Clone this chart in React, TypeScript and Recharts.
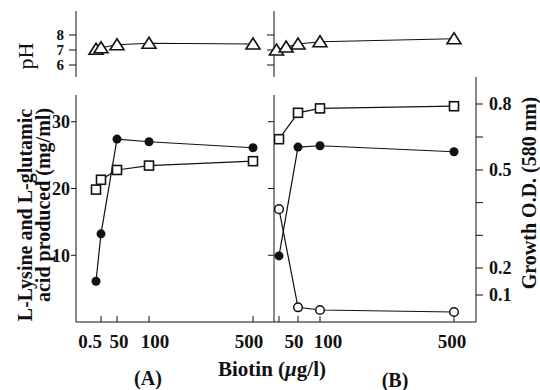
import { LineChart, Line, XAxis, YAxis } from "recharts";

// panel (A)
const biotinA = [0, 0.5, 50, 100, 500];
const lysineA = [6.1, 13.2, 27.4, 27.0, 26.1];
const growthA = [0.44, 0.47, 0.5, 0.52, 0.54];
const phBiotinA = [0, 0.5, 50, 100, 500];
const phA = [7.05, 7.15, 7.35, 7.45, 7.4];

// panel (B)
const biotinB = [10, 50, 100, 500];
const lysineB = [9.9, 26.2, 26.4, 25.5];
const glutamicB = [16.9, 2.2, 1.8, 1.5];
const growthB = [0.64, 0.76, 0.78, 0.79];
const phBiotinB = [5, 25, 50, 100, 500];
const phB = [7.0, 7.2, 7.4, 7.55, 7.75];

// ticks
const xTicksA = [0.5, 50, 100, 500];
const xTicksB = [10, 50, 100, 500];
const mgTicks = [10, 20, 30];
const odTicks = [0.1, 0.2, 0.3, 0.4, 0.5, 0.65, 0.8];
const odLabelled = [0.1, 0.2, 0.5, 0.8];
const phTicks = [6, 7, 8];

// the hand drawn axes are not linear, so biotin and O.D. go through piecewise scales
const scaleA = [[0, 20], [0.5, 25], [50, 41], [100, 73], [500, 177], [600, 198]];
const scaleB = [[0, 0], [10, 5], [50, 24], [100, 46], [500, 180], [555, 202]];
const scaleOD = [[0, 0], [0.1, 4.04], [0.2, 8.09], [0.5, 22.77], [0.8, 32.65], [0.84, 34]];

// labels on the crowded biotin axis are nudged apart like in the print
const nudgeA: Record<number, number> = { 50: 2, 100: 6, 500: -4 };
const nudgeB: Record<number, number> = { 50: -4, 100: 8, 500: -2 };

function warp(knots: number[][], v: number) {
  for (let i = 1; i < knots.length; i++) {
    const [a0, b0] = knots[i - 1];
    const [a1, b1] = knots[i];
    if (v <= a1 || i === knots.length - 1) return b0 + ((v - a0) / (a1 - a0)) * (b1 - b0);
  }
  return knots[0][1];
}

const W = 540, H = 390;
const axisA = 76, axisB = 274, axisR = 476;
const phTop = 11, phBottom = 77, mainTop = 95, mainBottom = 322;
const ink = "#111";
const font = "'Liberation Serif', 'Times New Roman', serif";
const tickStyle = { fontSize: 19, fontWeight: 700, fill: ink, fontFamily: font };
const yTickStyle = { ...tickStyle, fontSize: 18 };
const phTickStyle = { ...tickStyle, fontSize: 15 };
const layer: any = { position: "absolute", left: 0, top: 0 };

const mainA = biotinA.map((b, i) => ({ x: warp(scaleA, b), lysine: lysineA[i], growth: warp(scaleOD, growthA[i]) }));
const mainB = biotinB.map((b, i) => ({
  x: warp(scaleB, b),
  lysine: lysineB[i],
  glutamic: glutamicB[i],
  growth: warp(scaleOD, growthB[i]),
}));
const pHDataA = phBiotinA.map((b, i) => ({ x: warp(scaleA, b), ph: phA[i] }));
const pHDataB = phBiotinB.map((b, i) => ({ x: warp(scaleB, b), ph: phB[i] }));

const filledDot = (p: any) => <circle key={`f${p.index}`} cx={p.cx} cy={p.cy} r={4.5} fill={ink} />;
const openDot = (p: any) => (
  <circle key={`o${p.index}`} cx={p.cx} cy={p.cy} r={4.3} fill="#fff" stroke={ink} strokeWidth={1.5} />
);
const squareDot = (p: any) => (
  <rect key={`s${p.index}`} x={p.cx - 4.5} y={p.cy - 4.5} width={9} height={9} fill="#fff" stroke={ink} strokeWidth={1.6} />
);
const triDot = (p: any) => (
  <polygon
    key={`t${p.index}`}
    points={`${p.cx},${p.cy - 6} ${p.cx + 7},${p.cy + 5} ${p.cx - 7},${p.cy + 5}`}
    fill="#fff"
    stroke={ink}
    strokeWidth={1.6}
  />
);

function biotinTick(knots: number[][], values: number[], hidden: number[], nudge: Record<number, number>) {
  return (p: any) => {
    const v = values.find((t) => Math.abs(warp(knots, t) - p.payload.value) < 1e-6);
    if (v === undefined || hidden.includes(v)) return <g key={p.index} />;
    const first = v === 0.5;
    return (
      <text
        key={p.index}
        x={first ? p.x + 1 : p.x + (nudge[v] || 0)}
        y={p.y}
        dy="0.71em"
        textAnchor={first ? "end" : "middle"}
        {...tickStyle}
      >
        {v}
      </text>
    );
  };
}

const odFormat = (v: number) => {
  const t = odTicks.find((o) => Math.abs(warp(scaleOD, o) - v) < 1e-6);
  return t !== undefined && odLabelled.includes(t) ? t.toFixed(1) : "";
};

export default function App() {
  return (
    <div style={{ position: "absolute", left: 0, top: 0, width: W, height: H, background: "#fff" }}>
      {/* pH, panel A */}
      <div style={layer}>
        <LineChart width={W} height={H} data={pHDataA} margin={{ top: phTop, left: axisA - 60, right: W - axisB, bottom: H - phBottom }}>
          <XAxis xAxisId="t" orientation="top" type="number" dataKey="x" domain={[0, 198]} height={0} tick={false} tickLine={false} stroke={ink} />
          <YAxis yAxisId="p" width={60} domain={[5.2, 9.6]} ticks={phTicks} interval={0} tickSize={7} tickMargin={5} tick={phTickStyle} stroke={ink} allowDataOverflow />
          <Line xAxisId="t" yAxisId="p" dataKey="ph" stroke={ink} strokeWidth={1.2} dot={triDot} isAnimationActive={false} />
        </LineChart>
      </div>
      {/* pH, panel B */}
      <div style={layer}>
        <LineChart width={W} height={H} data={pHDataB} margin={{ top: phTop, left: axisB - 60, right: W - axisR, bottom: H - phBottom }}>
          <XAxis xAxisId="t" orientation="top" type="number" dataKey="x" domain={[0, 202]} height={0} tick={false} tickLine={false} stroke={ink} />
          <YAxis yAxisId="p" width={60} domain={[5.2, 9.6]} ticks={phTicks} interval={0} tickSize={7} tickFormatter={() => ""} stroke={ink} allowDataOverflow />
          <YAxis yAxisId="r" orientation="right" width={0} tick={false} tickLine={false} stroke={ink} />
          <Line xAxisId="t" yAxisId="p" dataKey="ph" stroke={ink} strokeWidth={1.2} dot={triDot} isAnimationActive={false} />
        </LineChart>
      </div>
      {/* main, panel A */}
      <div style={layer}>
        <LineChart width={W} height={H} data={mainA} margin={{ top: mainTop, left: axisA - 60, right: W - axisB, bottom: H - mainBottom - 30 }}>
          <XAxis type="number" dataKey="x" domain={[0, 198]} ticks={xTicksA.map((t) => warp(scaleA, t))} interval={0} height={30} tickSize={-6} tickMargin={19} tick={biotinTick(scaleA, xTicksA, [], nudgeA)} stroke={ink} allowDataOverflow />
          <YAxis yAxisId="mg" width={60} domain={[0, 34]} ticks={mgTicks} interval={0} tickSize={5} tickMargin={1} tick={yTickStyle} stroke={ink} allowDataOverflow />
          <YAxis yAxisId="od" hide domain={[0, 34]} allowDataOverflow />
          <Line yAxisId="od" dataKey="growth" stroke={ink} strokeWidth={1.2} dot={squareDot} isAnimationActive={false} />
          <Line yAxisId="mg" dataKey="lysine" stroke={ink} strokeWidth={1.2} dot={filledDot} isAnimationActive={false} />
        </LineChart>
      </div>
      {/* main, panel B */}
      <div style={layer}>
        <LineChart width={W} height={H} data={mainB} margin={{ top: mainTop, left: axisB - 60, right: W - axisR - 60, bottom: H - mainBottom - 30 }}>
          <XAxis type="number" dataKey="x" domain={[0, 202]} ticks={xTicksB.map((t) => warp(scaleB, t))} interval={0} height={30} tickSize={-6} tickMargin={19} tick={biotinTick(scaleB, xTicksB, [10], nudgeB)} stroke={ink} allowDataOverflow />
          <YAxis yAxisId="mg" width={60} domain={[0, 34]} ticks={mgTicks} interval={0} tickSize={6} tickFormatter={() => ""} stroke={ink} allowDataOverflow />
          <YAxis yAxisId="od" orientation="right" width={60} domain={[0, 34]} ticks={odTicks.map((t) => warp(scaleOD, t))} interval={0} tickFormatter={odFormat} tickSize={7} tickMargin={6} tick={yTickStyle} stroke={ink} allowDataOverflow />
          <Line yAxisId="od" dataKey="growth" stroke={ink} strokeWidth={1.2} dot={squareDot} isAnimationActive={false} />
          <Line yAxisId="mg" dataKey="lysine" stroke={ink} strokeWidth={1.2} dot={filledDot} isAnimationActive={false} />
          <Line yAxisId="mg" dataKey="glutamic" stroke={ink} strokeWidth={1.2} dot={openDot} isAnimationActive={false} />
        </LineChart>
      </div>
      {/* titles */}
      <svg width={W} height={H} style={{ ...layer, pointerEvents: "none" }} fontFamily={font} fill={ink}>
        <line x1={axisR} y1={phBottom} x2={axisR} y2={mainTop} stroke={ink} />
        <text transform="translate(25,215) rotate(-90)" textAnchor="middle" dominantBaseline="central" fontSize={20} fontWeight={700}>
          L-Lysine and L-glutamic
        </text>
        <text transform="translate(43,205) rotate(-90)" textAnchor="middle" dominantBaseline="central" fontSize={20} fontWeight={700}>
          acid produced (mg/ml)
        </text>
        <text transform="translate(529,193) rotate(-90)" textAnchor="middle" dominantBaseline="central" fontSize={20} fontWeight={700}>
          Growth O.D. (580 nm)
        </text>
        <text transform="translate(25,56) rotate(-90)" textAnchor="middle" dominantBaseline="central" fontSize={22}>
          pH
        </text>
        <text x={272} y={376} textAnchor="middle" fontSize={21} fontWeight={700}>
          Biotin (<tspan fontStyle="italic">μ</tspan>g/l)
        </text>
        <text x={148} y={385} textAnchor="middle" fontSize={20} fontWeight={700}>
          (A)
        </text>
        <text x={395} y={387} textAnchor="middle" fontSize={20} fontWeight={700}>
          (B)
        </text>
      </svg>
    </div>
  );
}
